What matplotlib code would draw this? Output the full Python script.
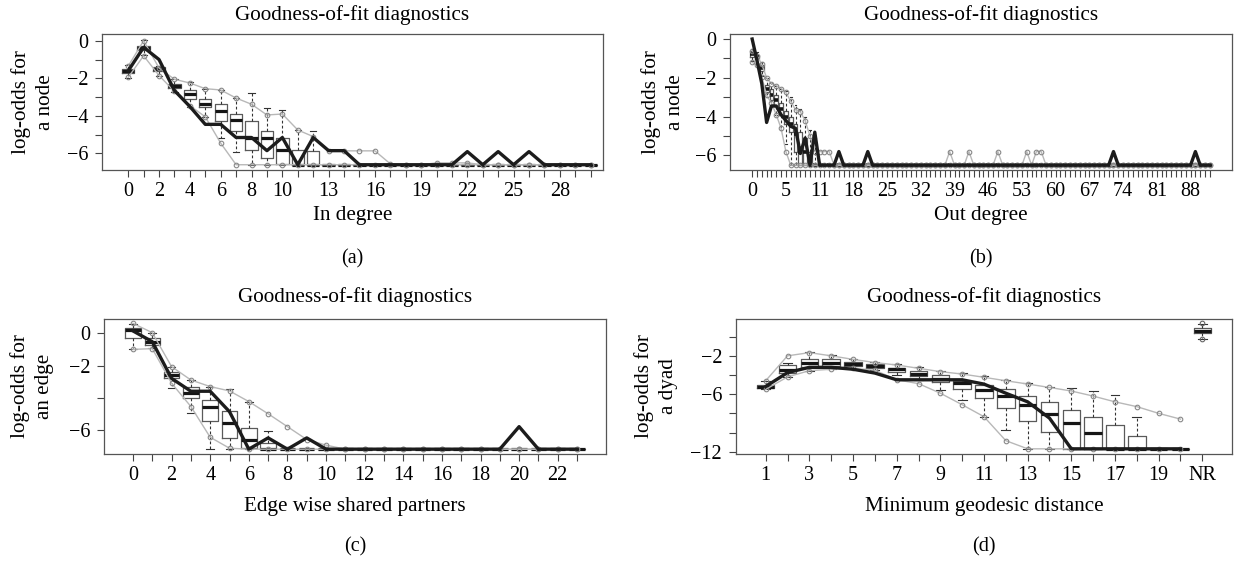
import matplotlib.pyplot as plt

plt.rcParams['font.family'] = ['Liberation Serif', 'DejaVu Serif']
plt.rcParams['font.size'] = 14

W, H = 1236, 561
MINUS = '\u2212'

# ---------------- (a) In degree: 0..30 ----------------
indeg_x = list(range(31))
indeg_labels_at = [0, 2, 4, 6, 8, 10, 13, 16, 19, 22, 25, 28]
indeg_obs = [-1.6, -0.35, -1.0, -2.65, -3.5, -4.45, -4.45, -5.15, -5.15, -5.85,
             -5.15, -6.6, -5.15, -5.85, -5.85, -6.6, -6.6, -6.6, -6.6, -6.6,
             -6.6, -6.6, -5.9, -6.6, -5.9, -6.6, -5.9, -6.6, -6.6, -6.6, -6.6]
indeg_hi = [-1.35, 0.0, -1.45, -2.05, -2.25, -2.55, -2.62, -3.05, -3.38, -3.95,
            -3.9, -4.75, -5.1, -5.86, -5.86, -5.86, -5.86, -6.55, -6.6, -6.6,
            -6.5, -6.5, -6.5, -6.6, -6.6, -6.6, -6.6, -6.6, -6.6, -6.6, -6.6]
indeg_lo = [-1.95, -0.8, -1.85, -2.7, -3.45, -4.05, -5.45] + [-6.6] * 24
indeg_med = [-1.6, -0.4, -1.5, -2.4, -2.85, -3.35, -3.75, -4.2, -5.15, -5.15,
             -5.84, -6.6, -6.6] + [-6.6] * 18
indeg_q1 = [-1.7, -0.5, -1.6, -2.5, -3.1, -3.55, -4.25, -4.78, -5.84, -6.25,
            -6.57, -6.6, -6.6] + [-6.6] * 18
indeg_q3 = [-1.5, -0.3, -1.4, -2.3, -2.62, -3.12, -3.38, -3.9, -4.25, -4.78,
            -5.15, -5.84, -5.86] + [-6.6] * 18
indeg_wlo = [-2.0, -0.75, -1.85, -2.75, -3.5, -4.05, -5.2, -5.9, -6.6, -6.6,
             -6.6, -6.6, -6.6] + [-6.6] * 18
indeg_whi = [-1.3, 0.05, -1.35, -2.05, -2.2, -2.55, -2.6, -3.05, -2.8, -3.6,
             -3.68, -4.75, -4.8] + [-6.6] * 18

# ---------------- (b) Out degree: 96 categories ----------------
outdeg_x = list(range(96))
outdeg_label_pos = [0, 7, 14, 21, 28, 35, 42, 49, 56, 63, 70, 77, 84, 91]
outdeg_label_txt = ['0', '5', '11', '18', '25', '32', '39', '46', '53', '60',
                    '67', '74', '81', '88']
outdeg_obs = ([0.0, -1.1, -2.3, -4.3, -3.45, -3.45, -3.9, -4.2, -4.5, -4.6,
               -5.9, -5.1, -6.5, -4.8, -6.5, -6.5, -6.5, -6.5, -5.8, -6.5,
               -6.5, -6.5, -6.5, -6.5, -5.8] + [-6.5] * 50 + [-5.8]
              + [-6.5] * 16 + [-5.8, -6.5, -6.5, -6.5])
outdeg_hi = ([-0.6, -0.85, -1.3, -2.0, -2.3, -2.4, -2.55, -2.75, -3.2, -3.65,
              -3.75, -4.2, -5.0, -5.8, -5.8, -5.8, -5.8] + [-6.5] * 24
             + [-5.8, -6.5, -6.5, -6.5, -5.8, -6.5, -6.5, -6.5, -6.5, -6.5,
                -5.8, -6.5, -6.5, -6.5, -6.5, -6.5, -5.8, -6.5, -5.8, -5.8]
             + [-6.5] * 35)
outdeg_lo = [-1.2, -1.35, -1.95, -2.9, -3.3, -3.9, -4.6, -5.8] + [-6.5] * 88
outdeg_med = [-0.75, -0.9, -1.5, -2.6, -2.9, -3.15, -3.6, -4.0, -4.4, -4.9,
              -5.8, -5.8, -6.5, -6.5] + [-6.5] * 82
outdeg_q1 = [-0.9, -1.05, -1.65, -2.75, -3.15, -3.45, -3.9, -4.4, -4.8, -5.8,
             -6.5, -6.5, -6.5, -6.5] + [-6.5] * 82
outdeg_q3 = [-0.6, -0.8, -1.35, -2.35, -2.6, -2.9, -3.3, -3.7, -4.0, -4.4,
             -4.8, -5.1, -5.8, -6.5] + [-6.5] * 82
outdeg_wlo = [-1.15, -1.3, -1.9, -3.0, -3.5, -3.9, -4.7, -5.4, -6.5, -6.5,
              -6.5, -6.5, -6.5, -6.5] + [-6.5] * 82
outdeg_whi = [-0.5, -0.65, -1.2, -2.0, -2.25, -2.4, -2.55, -2.7, -3.0, -3.4,
              -3.6, -4.0, -4.7, -5.1] + [-6.5] * 82

# ---------------- (c) Edgewise shared partners: 0..23 ----------------
esp_x = list(range(24))
esp_obs = [0.15, -0.52, -2.8, -3.6, -3.6, -4.87, -7.2, -6.5, -7.2, -6.5,
           -7.2, -7.2, -7.2, -7.2, -7.2, -7.2, -7.2, -7.2, -7.2, -7.2,
           -5.8, -7.2, -7.2, -7.2]
esp_hi = [0.62, 0.04, -2.07, -2.9, -3.31, -3.58, -4.24, -5.0, -5.8, -6.6,
          -6.95] + [-7.2] * 13
esp_lo = [-1.0, -0.95, -3.1, -4.55, -6.46, -7.14] + [-7.2] * 18
esp_med = [0.2, -0.52, -2.6, -3.68, -4.55, -5.59, -6.62, -7.2] + [-7.2] * 16
esp_q1 = [-0.31, -0.72, -2.8, -4.04, -5.42, -6.48, -7.14, -7.2] + [-7.2] * 16
esp_q3 = [0.35, -0.31, -2.38, -3.35, -4.14, -4.8, -5.9, -6.83] + [-7.2] * 16
esp_wlo = [-1.0, -0.93, -3.4, -4.97, -7.2, -7.2, -7.2, -7.2] + [-7.2] * 16
esp_whi = [0.6, 0.0, -2.07, -2.9, -3.31, -3.45, -4.24, -6.05] + [-7.2] * 16

# ---------------- (d) Minimum geodesic distance: 1..20, NR ----------------
dist_x = list(range(1, 21))
dist_box_x = list(range(1, 22))
dist_labels = ['1', '', '3', '', '5', '', '7', '', '9', '', '11', '', '13', '',
               '15', '', '17', '', '19', '', 'NR']
dist_obs = [-5.2, -3.75, -3.2, -3.2, -3.4, -3.8, -4.5, -4.5, -4.5, -4.5,
            -4.95, -5.9, -6.8, -8.5, -11.7, -11.7, -11.7, -11.7, -11.7, -11.7]
dist_hi = [-4.6, -2.0, -1.67, -2.0, -2.37, -2.7, -2.96, -3.3, -3.65, -3.9,
           -4.24, -4.6, -4.94, -5.3, -5.67, -6.2, -6.8, -7.3, -8.0, -8.6]
dist_lo = [-5.5, -4.2, -3.55, -3.4, -3.3, -3.5, -4.5, -4.9, -5.9, -7.1,
           -8.35, -10.85, -11.7, -11.7, -11.7, -11.7, -11.7, -11.7, -11.7, -11.7]
dist_med = [-5.2, -3.5, -2.8, -2.7, -2.85, -3.06, -3.4, -3.9, -4.45, -4.87,
            -5.57, -6.2, -7.13, -8.1, -9.04, -10.0, -11.7, -11.7, -11.7, -11.7, 0.6]
dist_q1 = [-5.39, -3.8, -3.13, -3.06, -3.06, -3.23, -3.65, -4.1, -4.7, -5.5,
           -6.43, -7.48, -8.8, -9.98, -11.7, -11.7, -11.7, -11.7, -11.7, -11.7, 0.35]
dist_q3 = [-5.04, -3.0, -2.33, -2.33, -2.6, -2.9, -3.23, -3.58, -4.0, -4.6,
           -5.04, -5.5, -6.16, -6.78, -7.65, -8.4, -9.2, -10.4, -11.7, -11.7, 0.85]
dist_wlo = [-5.5, -4.2, -3.55, -3.4, -3.3, -3.5, -3.95, -4.5, -5.6, -6.6,
            -8.35, -9.7, -11.7, -11.7, -11.7, -11.7, -11.7, -11.7, -11.7, -11.7, -0.24]
dist_whi = [-4.6, -2.7, -1.55, -1.9, -2.3, -2.65, -2.9, -3.2, -3.55, -3.8,
            -4.1, -4.5, -4.85, -5.2, -5.4, -5.67, -6.1, -8.35, -11.7, -11.7, 1.3]
dist_nr_pts = [1.4, -0.24]


def box_axes(fig, x0, y0, x1, y1):
    return fig.add_axes([x0 / W, 1 - y1 / H, (x1 - x0) / W, (y1 - y0) / H])


def gof(ax, pos, med, q1, q3, wlo, whi, med_lw=2.3):
    stats = [dict(med=m, q1=a, q3=b, whislo=lo, whishi=hi)
             for m, a, b, lo, hi in zip(med, q1, q3, wlo, whi)]
    ax.bxp(stats, positions=pos, widths=0.8, capwidths=0.4, showfliers=False,
           manage_ticks=False,
           boxprops=dict(color='#5a5a5a', lw=0.9),
           medianprops=dict(color='#151515', lw=med_lw, solid_capstyle='butt'),
           whiskerprops=dict(color='#333333', lw=0.8, ls=(0, (2.5, 2))),
           capprops=dict(color='#333333', lw=0.8))


def grey(ax, x, y):
    ax.plot(x, y, color='#b8b8b8', lw=1.0, marker='o', ms=3.3, mfc='none',
            mec='#888888', mew=0.8, zorder=3)


def observed(ax, x, y):
    ax.plot(x, y, color='#1c1c1c', lw=2.4, zorder=5)


def style(ax, xticks, xlabels, yticks, ylabels, xlim, ylim):
    ax.set_xlim(*xlim)
    ax.set_ylim(*ylim)
    ax.set_xticks(xticks)
    ax.set_xticklabels(xlabels)
    ax.set_yticks(yticks)
    ax.set_yticklabels(ylabels)
    ax.tick_params(axis='both', direction='out', length=5, width=0.8,
                   color='#444444', labelsize=14.5)
    ax.tick_params(axis='x', pad=4)
    ax.tick_params(axis='y', pad=5)
    for s in ax.spines.values():
        s.set_color('#555555')
        s.set_linewidth(0.9)


def panel_text(fig, ax, ylabel, ylab_off, xlabel, tag, ytitle, yxlab, ytag):
    bb = ax.get_position()
    cx = (bb.x0 + bb.x1) / 2
    fig.text(cx, 1 - ytitle / H, 'Goodness-of-fit diagnostics', ha='center',
             va='center', fontsize=15.2)
    fig.text(cx, 1 - yxlab / H, xlabel, ha='center', va='center', fontsize=15.2)
    fig.text(cx, 1 - ytag / H, tag, ha='center', va='center', fontsize=14.5)
    fig.text(bb.x0 + ylab_off / W, (bb.y0 + bb.y1) / 2, ylabel, rotation=90,
             ha='center', va='center', multialignment='center',
             linespacing=1.3, fontsize=15.2)


def minus(v):
    return str(v).replace('-', MINUS)


fig = plt.figure(figsize=(12.36, 5.61), dpi=100)

# (a)
ax = box_axes(fig, 102, 34, 603, 170)
gof(ax, indeg_x, indeg_med, indeg_q1, indeg_q3, indeg_wlo, indeg_whi)
grey(ax, indeg_x, indeg_hi)
grey(ax, indeg_x, indeg_lo)
observed(ax, indeg_x, indeg_obs)
style(ax, indeg_x, [str(v) if v in indeg_labels_at else '' for v in indeg_x],
      [0, -1, -2, -3, -4, -5, -6],
      ['0', '', minus(-2), '', minus(-4), '', minus(-6)],
      (-1.7, 30.8), (-6.88, 0.36))
panel_text(fig, ax, 'log-odds for\na node', -69, 'In degree', '(a)', 15, 215, 259)

# (b)
ax = box_axes(fig, 730, 34, 1232, 170)
gof(ax, outdeg_x, outdeg_med, outdeg_q1, outdeg_q3, outdeg_wlo, outdeg_whi,
    med_lw=2.6)
grey(ax, outdeg_x, outdeg_hi)
grey(ax, outdeg_x, outdeg_lo)
observed(ax, outdeg_x, outdeg_obs)
style(ax, outdeg_x,
      [outdeg_label_txt[outdeg_label_pos.index(v)] if v in outdeg_label_pos else ''
       for v in outdeg_x],
      [0, -1, -2, -3, -4, -5, -6],
      ['0', '', minus(-2), '', minus(-4), '', minus(-6)],
      (-4.6, 99.6), (-6.75, 0.26))
panel_text(fig, ax, 'log-odds for\na node', -67, 'Out degree', '(b)', 15, 215, 259)

# (c)
ax = box_axes(fig, 104, 319, 606, 454)
gof(ax, esp_x, esp_med, esp_q1, esp_q3, esp_wlo, esp_whi)
grey(ax, esp_x, esp_hi)
grey(ax, esp_x, esp_lo)
observed(ax, esp_x, esp_obs)
style(ax, esp_x, [str(v) if v % 2 == 0 else '' for v in esp_x],
      [0, -2, -4, -6], ['0', minus(-2), '', minus(-6)],
      (-1.5, 24.5), (-7.5, 0.89))
panel_text(fig, ax, 'log-odds for\nan edge', -72, 'Edge wise shared partners',
           '(c)', 297, 507, 547)

# (d)
ax = box_axes(fig, 736, 319, 1232, 454)
gof(ax, dist_box_x, dist_med, dist_q1, dist_q3, dist_wlo, dist_whi)
grey(ax, dist_x, dist_hi)
grey(ax, dist_x, dist_lo)
ax.plot([21, 21], dist_nr_pts, ls='none', marker='o', ms=3.3, mfc='none',
        mec='#666666', mew=0.8, zorder=3)
observed(ax, dist_x, dist_obs)
style(ax, dist_box_x, dist_labels,
      [0, -2, -4, -6, -8, -10, -12],
      ['', minus(-2), '', minus(-6), '', '', minus(-12)],
      (-0.36, 22.36), (-12.24, 1.84))
panel_text(fig, ax, 'log-odds for\na dyad', -80, 'Minimum geodesic distance',
           '(d)', 297, 507, 547)

fig.savefig('out.png', dpi=100)
